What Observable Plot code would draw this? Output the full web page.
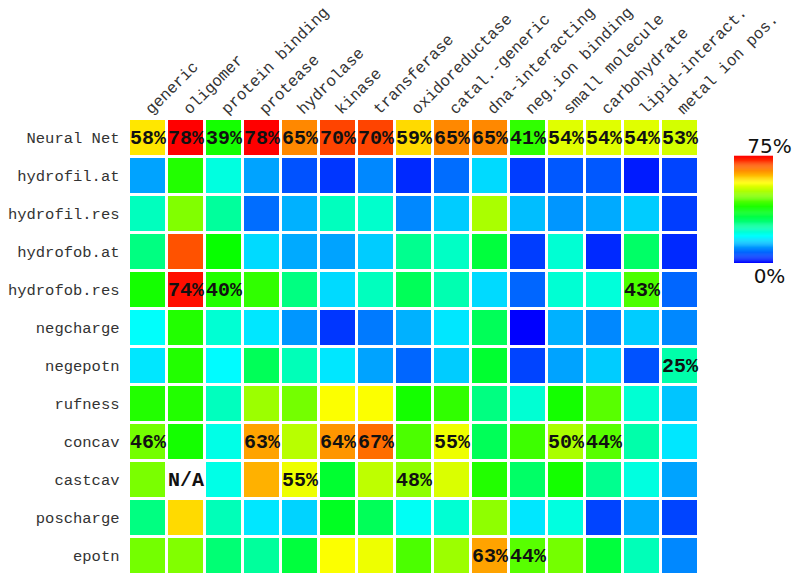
<!DOCTYPE html>
<html>
<head>
<meta charset="utf-8">
<script src="https://cdn.jsdelivr.net/npm/d3@7"></script>
<script src="https://cdn.jsdelivr.net/npm/@observablehq/plot@0.6"></script>
<style>
  html, body { margin: 0; padding: 0; background: #fff; }
  #wrap { position: relative; width: 800px; height: 587px; }
  #legend { position: absolute; left: 725px; top: 130px; }
</style>
</head>
<body>
<div id="wrap"><div id="main"></div><div id="legend"></div></div>
<script>
const columns = ["generic", "oligomer", "protein binding", "protease", "hydrolase", "kinase", "transferase",
  "oxidoreductase", "catal.-generic", "dna-interacting", "neg.ion binding", "small molecule",
  "carbohydrate", "lipid-interact.", "metal ion pos."];

const rows = ["Neural Net", "hydrofil.at", "hydrofil.res", "hydrofob.at", "hydrofob.res", "negcharge",
  "negepotn", "rufness", "concav", "castcav", "poscharge", "epotn"];

// percent accuracy per row (null = N/A)
const neuralNet   = [58, 78, 39, 78, 65, 70, 70, 59, 65, 65, 41, 54, 54, 54, 53];
const hydrofilAt  = [12, 40, 21, 12, 6, 4, 10, 3, 8, 16, 4.5, 6.5, 6.5, 2, 5];
const hydrofilRes = [23.5, 47, 26, 8, 13, 23.5, 22.5, 10, 15, 50, 14, 11, 12.5, 15, 4.5];
const hydrofobAt  = [28, 69, 38, 16, 12.5, 12, 15, 27, 23, 33, 4.5, 22, 3, 30, 3];
const hydrofobRes = [39, 74, 40, 41, 28, 16, 23.5, 31, 24.5, 16, 7.5, 22, 21.5, 43, 7.5];
const negcharge   = [19, 40, 22, 17, 11, 4, 9, 13, 17, 31, 0, 13, 10, 15, 10];
const negepotn    = [17, 40, 18.5, 31, 24, 17, 12, 7.5, 15, 34, 5, 12, 15, 6, 25];
const rufness     = [40, 40, 23.5, 49, 46, 56, 56, 39, 41, 28, 22, 39, 44, 22, 14.5];
const concav      = [46, 39, 20.5, 63, 51, 64, 67, 43, 55, 31, 42, 50, 44, 25, 17];
const castcav     = [46.5, null, 20.5, 62, 55, 34, 51.5, 48, 53.5, 40, 30, 39, 27, 21, 12];
const poscharge   = [28, 59, 24, 17, 15.5, 35, 31, 19.5, 22, 48, 17, 21, 5, 12.5, 5];
const epotn       = [46, 47, 29, 26, 33, 56, 55, 43, 49, 63, 44, 46, 33, 24, 10];

const series = [neuralNet, hydrofilAt, hydrofilRes, hydrofobAt, hydrofobRes, negcharge,
  negepotn, rufness, concav, castcav, poscharge, epotn];

// column indices whose value is printed in the cell, per row
const labelledCols = [
  [0,1,2,3,4,5,6,7,8,9,10,11,12,13,14],
  [], [], [],
  [1, 2, 13],
  [],
  [14],
  [],
  [0, 3, 5, 6, 8, 11, 12],
  [1, 4, 7],
  [],
  [9, 10]
];

const colorbarMax = 75;

const table = [];
rows.forEach((r, i) => columns.forEach((c, j) => {
  table.push({row: r, col: c, value: series[i][j]});
}));
const labels = [];
rows.forEach((r, i) => labelledCols[i].forEach(j => {
  const v = series[i][j];
  labels.push({row: r, col: columns[j], text: v == null ? "N/A" : v + "%"});
}));

const colorScale = {type: "linear", domain: [0, colorbarMax], range: ["blue", "red"],
  interpolate: d3.interpolateHslLong, clamp: true};

const mono = "'Liberation Mono', 'Courier New', 'DejaVu Sans Mono', monospace";

const chart = Plot.plot({
  width: 800, height: 587,
  marginLeft: 124, marginRight: 97, marginTop: 115, marginBottom: 10,
  style: {fontFamily: mono, background: "#fff"},
  x: {domain: columns, paddingInner: 0.09, paddingOuter: 0, axis: null},
  y: {domain: rows, paddingInner: 0.09, paddingOuter: 0, axis: null},
  color: colorScale,
  marks: [
    Plot.cell(table, {x: "col", y: "row", fill: "value"}),
    Plot.text(labels, {x: "col", y: "row", text: "text", fontFamily: mono, fontWeight: "bold",
      fontSize: 20, fill: "#111"}),
    Plot.axisX({anchor: "top", label: null, tickRotate: -45, tickSize: 0, tickPadding: 4, fontSize: 16,
      fontFamily: mono, fill: "#333"}),
    Plot.axisY({anchor: "left", label: null, tickSize: 0, tickPadding: 5, fontSize: 15.5,
      fontFamily: mono, fill: "#333"})
  ]
});
document.getElementById("main").appendChild(chart);

const step = 0.75;
const steps = d3.range(0, colorbarMax, step);
const legend = Plot.plot({
  width: 75, height: 165,
  marginTop: 26, marginBottom: 32, marginLeft: 9, marginRight: 27,
  style: {fontFamily: "'DejaVu Sans', sans-serif", background: "transparent", overflow: "visible"},
  y: {domain: [0, colorbarMax], axis: null},
  color: colorScale,
  marks: [
    Plot.rectY(steps, {y1: d => d, y2: d => d + step + 0.2, fill: d => d + step / 2}),
    Plot.text([colorbarMax], {y: d => d, text: d => d + "%", frameAnchor: "left", dx: 35,
      textAnchor: "middle", lineAnchor: "bottom", dy: -4, fontSize: 20, fill: "#111"}),
    Plot.text([0], {y: d => d, text: d => d + "%", frameAnchor: "left", dx: 35,
      textAnchor: "middle", lineAnchor: "top", dy: 5, fontSize: 20, fill: "#111"})
  ]
});
document.getElementById("legend").appendChild(legend);
</script>
</body>
</html>
